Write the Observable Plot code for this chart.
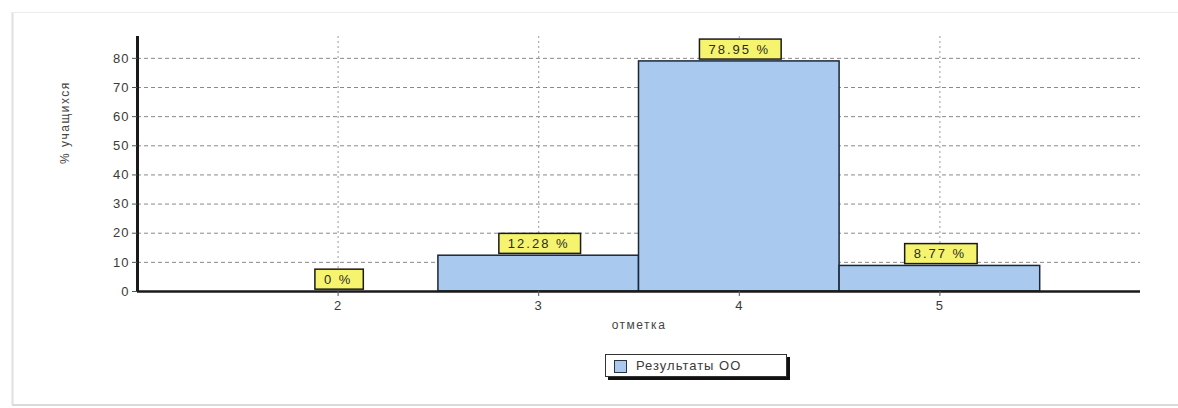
<!DOCTYPE html>
<html>
<head>
<meta charset="utf-8">
<script src="https://cdn.jsdelivr.net/npm/d3@7"></script>
<script src="https://cdn.jsdelivr.net/npm/@observablehq/plot@0.6"></script>
<style>
  html, body { margin: 0; padding: 0; background: #fff; overflow: hidden; }
  #wrap { position: relative; width: 1178px; height: 408px; overflow: hidden; font-family: "Liberation Sans", Arial, sans-serif; }
  #frameL { position: absolute; left: 11px; top: 12px; width: 3px; height: 393px; background: linear-gradient(to right, #f2f2f2, #e2e2e2, #f4f4f4); }
  #frameT { position: absolute; left: 12px; top: 12px; width: 1166px; height: 1px; background: #ececec; }
  #frameB { position: absolute; left: 12px; top: 404px; width: 1166px; height: 2px; background: #dadada; }
  #chart { position: absolute; left: 0; top: 0; }
  #legend { position: absolute; left: 605px; top: 354px; width: 182px; height: 23px; background: #fff; border: 1px solid #333; box-shadow: 3px 3px 0 #111; box-sizing: border-box; }
  #legend .sw { position: absolute; left: 8px; top: 5px; width: 11px; height: 11px; background: #a9caee; border: 1px solid #2a3340; }
  #legend .lb { position: absolute; left: 30px; top: 3px; font-size: 13px; letter-spacing: 1px; color: #3a3a3a; white-space: nowrap; }
</style>
</head>
<body>
<div id="wrap">
  <div id="frameL"></div><div id="frameT"></div><div id="frameB"></div>
  <div id="chart"></div>
  <div id="legend"><div class="sw"></div><div class="lb"></div></div>
</div>
<script>
// Data
const grades = [2, 3, 4, 5];
const percents = [0, 12.28, 78.95, 8.77];
const labels = ["0 %", "12.28 %", "78.95 %", "8.77 %"];
const yTicks = [0, 10, 20, 30, 40, 50, 60, 70, 80];
const xTicks = [2, 3, 4, 5];
const seriesName = "Результаты ОО";
const xTitle = "отметка";
const yTitle = "% учащихся";

const data = grades.map((g, i) => ({grade: g, value: percents[i], label: labels[i]}));

const chart = Plot.plot({
  width: 1178,
  height: 345,
  marginLeft: 137,
  marginRight: 38,
  marginTop: 36,
  marginBottom: 54,
  style: {fontFamily: "'Liberation Sans', Arial, sans-serif", fontSize: "13px", color: "#3a3a3a", background: "transparent"},
  x: {domain: [1, 6], ticks: xTicks},
  y: {domain: [0, 87.5], ticks: yTicks},
  marks: [
    Plot.gridY(yTicks.filter(t => t > 0), {stroke: "#8a8a8a", strokeOpacity: 1, strokeDasharray: "4,3"}),
    Plot.gridX(xTicks, {stroke: "#9a9a9a", strokeOpacity: 1, strokeDasharray: "2,3"}),
    Plot.rect(data, {x1: d => d.grade - 0.5, x2: d => d.grade + 0.5, y1: 0, y2: "value", fill: "#a9caee", stroke: "#1c2636", strokeWidth: 1.5}),
    Plot.ruleX([1], {stroke: "#1a1a1a", strokeWidth: 3}),
    Plot.ruleY([0], {stroke: "#1a1a1a", strokeWidth: 2.5}),
    Plot.axisY({ticks: yTicks, tickSize: 5, tickPadding: 3, label: null, fontSize: 13, stroke: "#555"}),
    Plot.axisX({ticks: xTicks, tickSize: 5, tickPadding: 4, label: null, fontSize: 13, stroke: "#555", tickFormat: d3.format("d")}),
    Plot.text(data, {x: "grade", y: "value", text: "label", dy: -12, fontSize: 13, fill: "#2a2a2a"}),
    Plot.text([xTitle], {frameAnchor: "bottom", dy: 37, text: d => d, fontSize: 12, fill: "#444"}),
    Plot.text([yTitle], {frameAnchor: "left", dx: -72, rotate: -90, text: d => d, fontSize: 12, fill: "#444"})
  ]
});
document.getElementById("chart").appendChild(chart);
document.querySelector("#legend .lb").textContent = seriesName;

// style tweaks
chart.querySelectorAll("text").forEach(t => {
  const s = t.textContent;
  if (s === xTitle || s === yTitle) t.style.letterSpacing = "1.5px";
  else t.style.letterSpacing = "1px";
});

// yellow label boxes
const labelSet = new Set(labels);
chart.querySelectorAll("text").forEach(t => {
  if (!labelSet.has(t.textContent)) return;
  t.style.letterSpacing = "2px";
  const b = t.getBBox();
  const r = document.createElementNS("http://www.w3.org/2000/svg", "rect");
  const padX = 10, padY = 2.5;
  r.setAttribute("x", b.x - padX + 1);
  r.setAttribute("y", b.y - padY);
  r.setAttribute("width", b.width + 2 * padX);
  r.setAttribute("height", b.height + 2 * padY);
  r.setAttribute("fill", "#f6f46e");
  r.setAttribute("stroke", "#1a1a1a");
  r.setAttribute("stroke-width", "1.5");
  if (t.getAttribute("transform")) r.setAttribute("transform", t.getAttribute("transform"));
  t.parentNode.insertBefore(r, t);
});
</script>
</body>
</html>
